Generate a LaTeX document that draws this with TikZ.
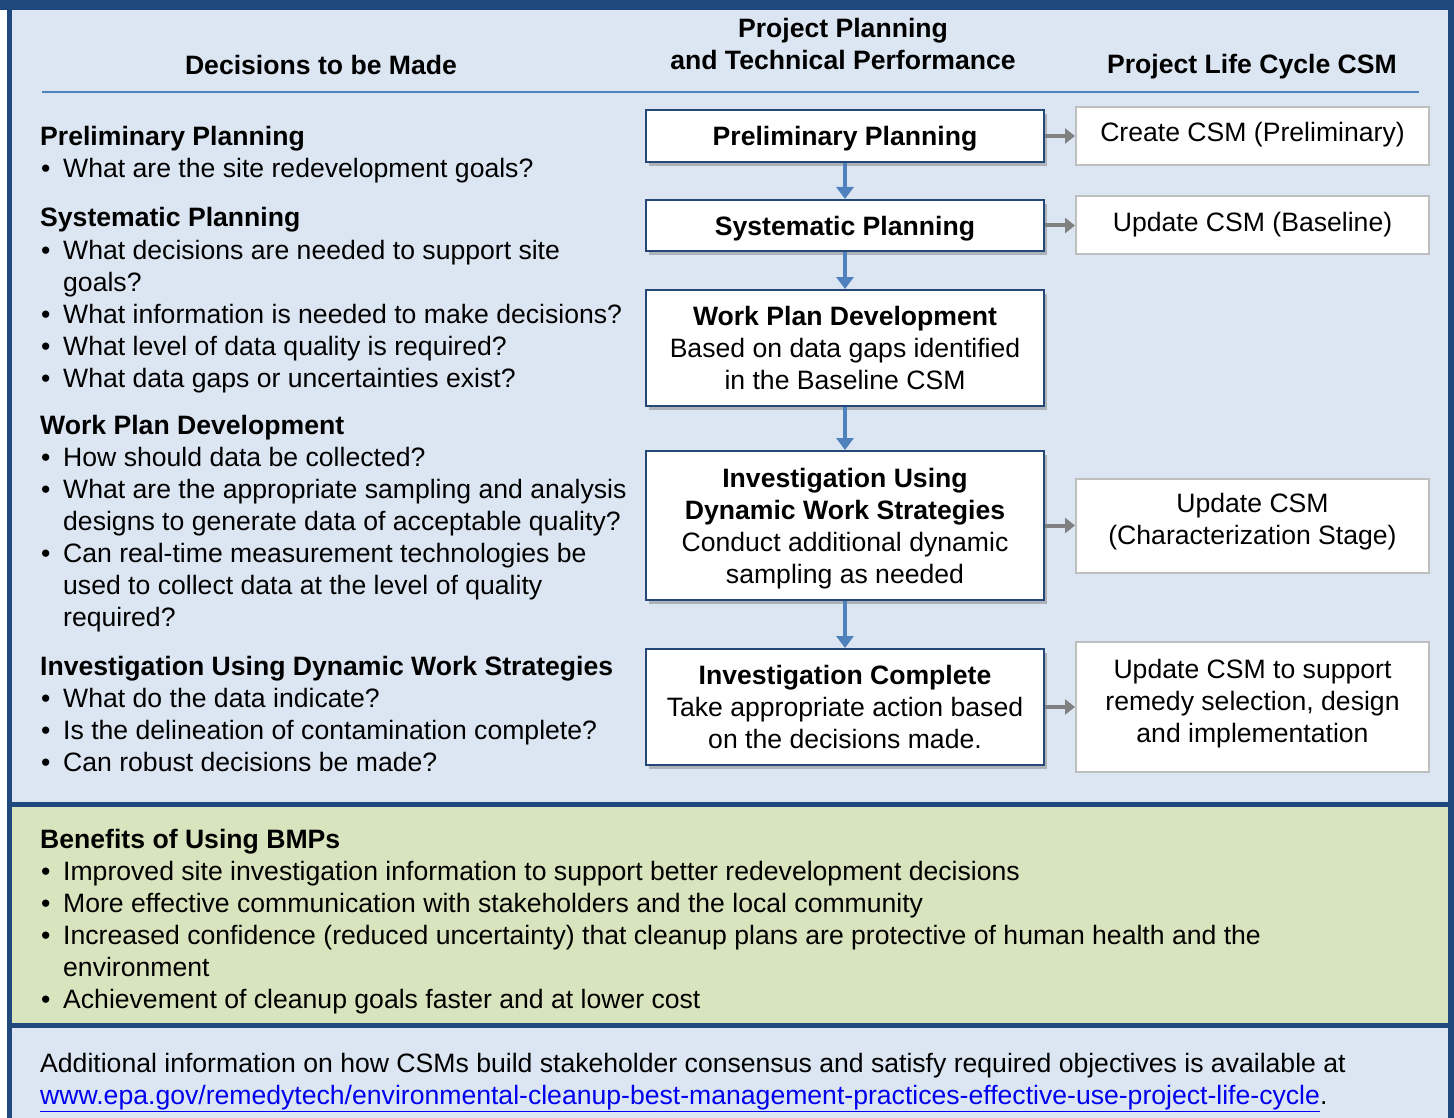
\documentclass[tikz,border=0pt]{standalone}
\usepackage{fontspec}
\setmainfont{Liberation Sans}
\usetikzlibrary{arrows.meta,shadows}
\definecolor{darkframe}{RGB}{31,73,125}
\definecolor{lightbg}{RGB}{220,230,242}
\definecolor{greenbg}{RGB}{215,228,189}
\definecolor{rule}{RGB}{79,129,189}
\definecolor{boxline}{RGB}{37,72,120}
\definecolor{csmline}{RGB}{191,191,191}
\definecolor{grayarr}{RGB}{128,128,128}
\definecolor{linkblue}{RGB}{0,0,238}
\tikzset{
  txt/.style={font=\fontsize{26.6}{32}\selectfont, inner sep=0pt, text=black},
  ln/.style={txt, anchor=base west},
  hd/.style={txt, font=\fontsize{26.6}{32}\selectfont\bfseries, align=center},
  boxtext/.style={txt, align=center},
  midbox/.style={txt, draw=boxline, line width=2pt, fill=white, minimum width=398pt, align=center,
     drop shadow={shadow xshift=3pt, shadow yshift=-4pt, fill=black!55, opacity=.45}},
  csmbox/.style={txt, draw=csmline, line width=2pt, fill=white, minimum width=353pt, align=center},
  bluearrow/.style={draw=rule, line width=4pt, -{Triangle[width=17pt,length=12pt]}},
  grayarrow/.style={draw=grayarr, line width=4pt, -{Triangle[width=15pt,length=10pt]}},
}
\newcommand\HeadL[3]{\node[ln, font=\fontsize{26.6}{32}\selectfont\bfseries] (#1) at (40,#2) {#3};}
\newcommand\BulL[3]{\node[ln] (#1) at (40,#2) {\makebox[23pt][l]{\hspace*{1pt}\textbullet}#3};}
\newcommand\ContL[3]{\node[ln] (#1) at (63,#2) {#3};}
\begin{document}
\begin{tikzpicture}[x=1pt,y=-1pt]
\useasboundingbox (0,0) rectangle (1454,1118);
% frame and sections
\fill[white] (0,0) rectangle (1454,1118);
\fill[darkframe] (7,0) rectangle (1454,1118);
\fill[darkframe] (0,0) rectangle (1454,10);
\fill[lightbg] (12,10) rectangle (1448,802);
\fill[greenbg] (12,807) rectangle (1448,1023);
\fill[lightbg] (12,1028) rectangle (1448,1118);
% headers
\node[hd] (h1) at (321,65) {Decisions to be Made};
\node[hd] (h2) at (843,44) {Project Planning\\and Technical Performance};
\node[hd, anchor=base] (h3) at (1252,74) {Project Life Cycle CSM};
\coordinate (ruleL) at (42,92);
\coordinate (ruleR) at (1419,92);
\draw[rule, line width=2pt] (ruleL) -- (ruleR);
% left column
\HeadL{t1}{146}{Preliminary Planning}
\BulL{t2}{178}{What are the site redevelopment goals?}
\HeadL{t3}{227}{Systematic Planning}
\BulL{t4}{259}{What decisions are needed to support site}
\ContL{t5}{291}{goals?}
\BulL{t6}{323}{What information is needed to make decisions?}
\BulL{t7}{355}{What level of data quality is required?}
\BulL{t8}{387}{What data gaps or uncertainties exist?}
\HeadL{t9}{434}{Work Plan Development}
\BulL{t10}{466}{How should data be collected?}
\BulL{t11}{498}{What are the appropriate sampling and analysis}
\ContL{t12}{530}{designs to generate data of acceptable quality?}
\BulL{t13}{562}{Can real-time measurement technologies be}
\ContL{t14}{594}{used to collect data at the level of quality}
\ContL{t15}{626}{required?}
\HeadL{t16}{675}{Investigation Using Dynamic Work Strategies}
\BulL{t17}{707}{What do the data indicate?}
\BulL{t18}{739}{Is the delineation of contamination complete?}
\BulL{t19}{771}{Can robust decisions be made?}
% middle boxes
\node[midbox, minimum height=52pt, text height=20pt, text depth=0pt] (b1) at (845,136) {\textbf{Preliminary Planning}};
\node[midbox, minimum height=51pt, text height=21pt, text depth=0pt] (b2) at (845,225.5) {\textbf{Systematic Planning}};
\node[midbox, minimum height=116pt] (b3) at (845,348) {\textbf{Work Plan Development}\\Based on data gaps identified\\in the Baseline CSM};
\node[midbox, minimum height=149pt] (b4) at (845,525.5) {};
\node[boxtext] (b4t) at (845,528.5) {\textbf{Investigation Using}\\\textbf{Dynamic Work Strategies}\\Conduct additional dynamic\\sampling as needed};
\node[midbox, minimum height=116pt] (b5) at (845,707) {\textbf{Investigation Complete}\\Take appropriate action based\\on the decisions made.};
% right boxes
\node[csmbox, minimum height=58pt, text height=20pt, text depth=8pt] (r1) at (1252.5,136) {Create CSM (Preliminary)};
\node[csmbox, minimum height=58pt, text height=20pt, text depth=8pt] (r2) at (1252.5,225.5) {Update CSM (Baseline)};
\node[csmbox, minimum height=94pt] (r3) at (1252.5,525.5) {};
\node[boxtext] (r3t) at (1252.5,521.5) {Update CSM\\(Characterization Stage)};
\node[csmbox, minimum height=130pt] (r4) at (1252.5,707) {};
\node[boxtext] (r4t) at (1252.5,704) {Update CSM to support\\remedy selection, design\\and implementation};
% arrows
\draw[bluearrow] (b1.south) -- (b2.north);
\draw[bluearrow] (b2.south) -- (b3.north);
\draw[bluearrow] (b3.south) -- (b4.north);
\draw[bluearrow] (b4.south) -- (b5.north);
\draw[grayarrow] (b1.east) -- (r1.west);
\draw[grayarrow] (b2.east) -- (r2.west);
\draw[grayarrow] (b4.east) -- (r3.west);
\draw[grayarrow] (b5.east) -- (r4.west);
% benefits
\HeadL{g1}{848}{Benefits of Using BMPs}
\BulL{g2}{880}{Improved site investigation information to support better redevelopment decisions}
\BulL{g3}{912}{More effective communication with stakeholders and the local community}
\BulL{g4}{944}{Increased confidence (reduced uncertainty) that cleanup plans are protective of human health and the}
\ContL{g5}{976}{environment}
\BulL{g6}{1008}{Achievement of cleanup goals faster and at lower cost}
% additional info
\node[ln] (a1) at (40,1072) {Additional information on how CSMs build stakeholder consensus and satisfy required objectives is available at};
\node[ln] (a2) at (40,1104) {{\color{linkblue}\underline{www.epa.gov/remedytech/environmental-cleanup-best-management-practices-effective-use-project-life-cycle}}.};
\end{tikzpicture}
\end{document}
